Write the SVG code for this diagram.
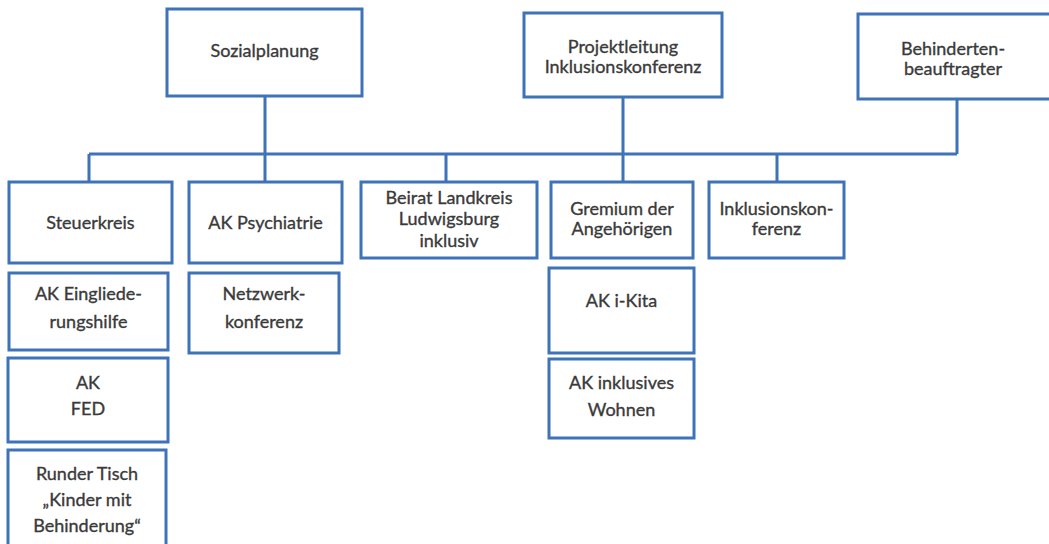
<svg xmlns="http://www.w3.org/2000/svg" width="1049" height="544" viewBox="0 0 1049 544">
<style>
.box{fill:#ffffff;stroke:#3f73b9;stroke-width:3}
.con{fill:none;stroke:#3f73b9;stroke-width:3}
text{font-family:Lato,"Open Sans","Liberation Sans",sans-serif;font-size:18px;fill:#3a3a3a;stroke:#3a3a3a;stroke-width:0.35;text-anchor:middle}
</style>
<rect width="1049" height="544" fill="#ffffff"/>
<g id="connectors">
<path class="con" d="M265 96V154M89 154H957M89 154V182M265 154V182M446 154V182M623 97V182M777 154V182M957 99V154"/>
</g>
<g id="sozialplanung"><rect class="box" x="167" y="9" width="195" height="87"/><text x="264.5" y="57">Sozialplanung</text></g>
<g id="projektleitung"><rect class="box" x="524" y="13" width="198" height="84"/><text x="623" y="53">Projektleitung</text><text x="623" y="73">Inklusionskonferenz</text></g>
<g id="behindertenbeauftragter"><rect class="box" x="858" y="14" width="195" height="85"/><text x="953" y="55">Behinderten-</text><text x="953" y="75">beauftragter</text></g>
<g id="steuerkreis"><rect class="box" x="9" y="182" width="163" height="81"/><text x="90.5" y="229">Steuerkreis</text></g>
<g id="ak-psychiatrie"><rect class="box" x="189" y="182" width="153" height="81"/><text x="265.5" y="229">AK Psychiatrie</text></g>
<g id="beirat"><rect class="box" x="361" y="182" width="176" height="76"/><text x="449" y="204">Beirat Landkreis</text><text x="449" y="225">Ludwigsburg</text><text x="449" y="247">inklusiv</text></g>
<g id="gremium"><rect class="box" x="551" y="182" width="142" height="76"/><text x="622" y="215">Gremium der</text><text x="622" y="235">Angehörigen</text></g>
<g id="inklusionskonferenz"><rect class="box" x="709" y="182" width="135" height="76"/><text x="776.5" y="215">Inklusionskon-</text><text x="776.5" y="235">ferenz</text></g>
<g id="ak-eingliederungshilfe"><rect class="box" x="9" y="273" width="159" height="77"/><text x="88.5" y="300">AK Eingliede-</text><text x="88.5" y="328">rungshilfe</text></g>
<g id="netzwerkkonferenz"><rect class="box" x="189" y="273" width="150" height="80"/><text x="264" y="300">Netzwerk-</text><text x="264" y="328">konferenz</text></g>
<g id="ak-i-kita"><rect class="box" x="549" y="268" width="145" height="85"/><text x="621.5" y="307">AK i-Kita</text></g>
<g id="ak-inklusives-wohnen"><rect class="box" x="549" y="359" width="145" height="79"/><text x="621.5" y="389">AK inklusives</text><text x="621.5" y="416">Wohnen</text></g>
<g id="ak-fed"><rect class="box" x="8" y="358" width="160" height="84"/><text x="88" y="389">AK</text><text x="88" y="415">FED</text></g>
<g id="runder-tisch"><rect class="box" x="8" y="450" width="158" height="100"/><text x="87" y="480">Runder Tisch</text><text x="87" y="506">„Kinder mit</text><text x="87" y="532">Behinderung“</text></g>
</svg>
